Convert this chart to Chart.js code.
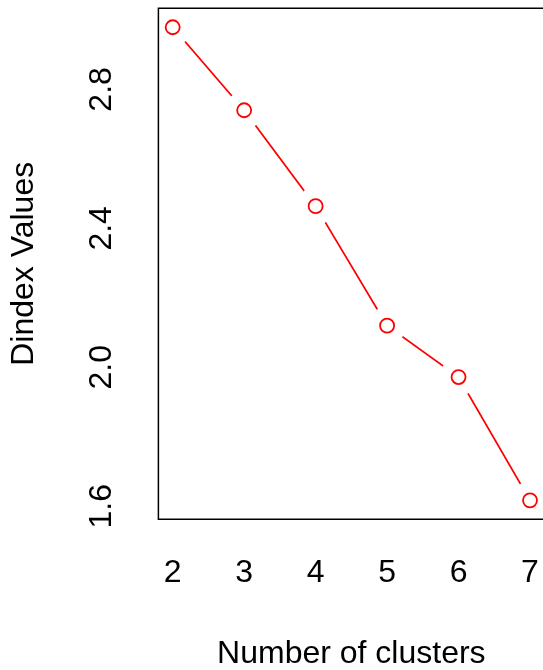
<!DOCTYPE html>
<html>
<head>
<meta charset="utf-8">
<script src="https://cdn.jsdelivr.net/npm/chart.js@4"></script>
<style>
  html, body { margin: 0; padding: 0; background: #fff; overflow: hidden; }
  #wrap { width: 543px; height: 670px; overflow: hidden; }
  #dindexChart { display: block; }
</style>
</head>
<body>
<div id="wrap"><canvas id="dindexChart" width="548" height="670"></canvas></div>
<script>
// ===================== DATA =====================
const clusters = [2, 3, 4, 5, 6, 7];
const dindexValues = [2.979, 2.740, 2.464, 2.120, 1.972, 1.617];
const xTickValues = [2, 3, 4, 5, 6, 7];
const yTickValues = [1.6, 2.0, 2.4, 2.8];
const yTickLabels = ['1.6', '2.0', '2.4', '2.8'];

// axis limits (R style: data range + 4%)
const xMin = 1.8, xMax = 7.2;
const yMin = 1.5625, yMax = 3.0335;

const FONT = { family: '"Liberation Sans", Arial, sans-serif', size: 32, lineHeight: 1 };
const points = clusters.map((c, i) => ({ x: c, y: dindexValues[i] }));

function noPadding(s) {
  s.paddingTop = 0; s.paddingBottom = 0; s.paddingLeft = 0; s.paddingRight = 0;
}

// ===================== FRAME PLUGIN =====================
// right side of the box falls outside the picture, so only 3 sides
const boxPlugin = {
  id: 'box',
  afterDraw(chart) {
    const a = chart.chartArea;
    const ctx = chart.ctx;
    ctx.save();
    ctx.strokeStyle = '#000';
    ctx.lineWidth = 1.5;
    ctx.beginPath();
    ctx.moveTo(a.right + 5, a.top);
    ctx.lineTo(a.left, a.top);
    ctx.lineTo(a.left, a.bottom);
    ctx.lineTo(a.right + 5, a.bottom);
    ctx.stroke();
    ctx.restore();
  }
};

// ===================== CHART =====================
new Chart(document.getElementById('dindexChart'), {
  type: 'line',
  data: {
    datasets: [
      { // connecting line
        data: points, showLine: true, borderColor: '#ff0000', borderWidth: 1.8,
        pointRadius: 0, fill: false, order: 3
      },
      { // white gaps around points (type = "b")
        data: points, showLine: false, pointRadius: 19, pointBorderWidth: 0,
        pointBackgroundColor: '#fff', pointBorderColor: '#fff', order: 2
      },
      { // open circles
        data: points, showLine: false, pointRadius: 7, pointBorderWidth: 1.8,
        pointBorderColor: '#ff0000', pointBackgroundColor: 'rgba(0,0,0,0)', order: 1
      }
    ]
  },
  options: {
    responsive: false,
    animation: false,
    events: [],
    layout: { autoPadding: false, padding: { top: 8.3, right: 3.7, bottom: 0, left: 0 } },
    plugins: { legend: { display: false }, tooltip: { enabled: false } },
    scales: {
      x: {
        type: 'linear', min: xMin, max: xMax,
        grid: { display: false, drawTicks: false },
        border: { display: false },
        afterBuildTicks: s => { s.ticks = xTickValues.map(v => ({ value: v })); },
        afterFit: s => { s.height = 150.7; noPadding(s); },
        ticks: { color: '#000', font: FONT, padding: 38, maxRotation: 0, autoSkip: false,
                 callback: v => String(v) },
        title: { display: true, text: 'Number of clusters', color: '#000', font: FONT,
                 padding: { top: 0, bottom: 0 } }
      },
      y: {
        type: 'linear', min: yMin, max: yMax,
        grid: { display: false, drawTicks: false },
        border: { display: false },
        afterBuildTicks: s => { s.ticks = yTickValues.map(v => ({ value: v })); },
        afterFit: s => { s.width = 158.4; noPadding(s); },
        ticks: { color: '#000', font: FONT, padding: 34, autoSkip: false,
                 minRotation: 90, maxRotation: 90, crossAlign: 'center',
                 callback: (v, i) => yTickLabels[i] },
        title: { display: true, text: 'Dindex Values', color: '#000', font: FONT,
                 padding: { top: 8, bottom: 0 } }
      }
    }
  },
  plugins: [boxPlugin]
});
</script>
</body>
</html>
